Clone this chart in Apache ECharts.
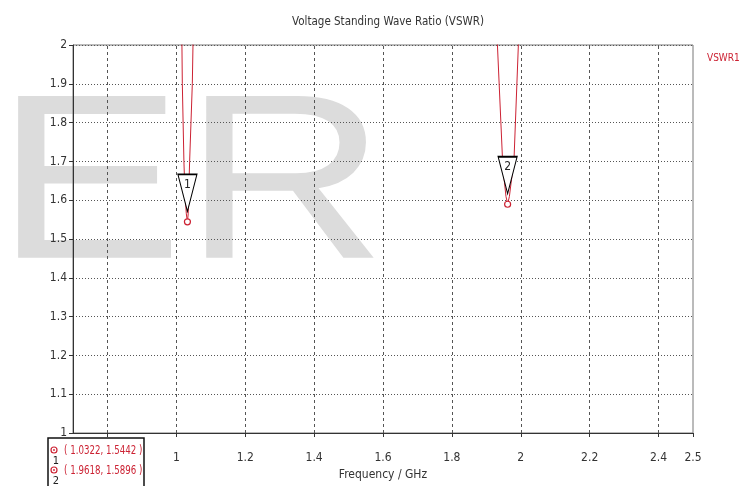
<!DOCTYPE html>
<html>
<head>
<meta charset="utf-8">
<script src="https://cdn.jsdelivr.net/npm/echarts@6/dist/echarts.min.js"></script>
<style>
html,body{margin:0;padding:0;background:#fff;}
#c{width:743px;height:486px;}
</style>
</head>
<body>
<div id="c"></div>
<script>
// ---- data ----
const titleText = 'Voltage Standing Wave Ratio (VSWR)';
const seriesName = 'VSWR1';
const xName = 'Frequency / GHz';
// resonance 1
const freq1 = [1.0151, 1.0174, 1.0220, 1.0250, 1.0290, 1.0322, 1.0345, 1.0360, 1.0386, 1.0464, 1.0503];
const vswr1 = [2.10,   1.90,   1.70,   1.62,   1.565,  1.5442, 1.565,  1.62,   1.70,   1.90,   2.10];
// resonance 2
const freq2 = [1.9272, 1.9322, 1.9467, 1.9510, 1.9570, 1.9618, 1.9670, 1.9740, 1.9806, 1.9930, 1.9973];
const vswr2 = [2.10,   2.00,   1.711,  1.66,   1.61,   1.5896, 1.61,   1.66,   1.711,  2.00,   2.10];
// markers
const markerNames = ['1', '2'];
const markerFreq = [1.0322, 1.9618];
const markerVswr = [1.5442, 1.5896];
// axes
const xMin = 0.7, xMax = 2.5;
const yMin = 1, yMax = 2, yStep = 0.1;
const xGridValues = [0.8, 1.0, 1.2, 1.4, 1.6, 1.8, 2.0, 2.2, 2.4];
const xTickValues = [0.8, 1.0, 1.2, 1.4, 1.6, 1.8, 2.0, 2.2, 2.4, 2.5];
const xLabelValues = [1.0, 1.2, 1.4, 1.6, 1.8, 2.0, 2.2, 2.4, 2.5];

// ---- styles ----
const RED = '#cc2233';
const FONT = "'Liberation Sans Narrow', 'DejaVu Sans Condensed', sans-serif";
const GRID_COLOR = '#555';

const chart = echarts.init(document.getElementById('c'), null, {renderer: 'canvas'});

const triPath = 'path://M0,0 L20,0 L10,38 Z';

function markerPoints(idx) {
  return [
    {
      coord: [markerFreq[idx], markerVswr[idx]],
      symbol: triPath,
      symbolSize: [19, 37],
      symbolOffset: [0, -29],
      itemStyle: {color: '#fff', borderColor: '#000', borderWidth: 1.3},
      label: {show: true, formatter: markerNames[idx], color: '#222', fontSize: 12, fontFamily: FONT, position: 'inside', offset: [0, -8]}
    },
    {
      coord: [markerFreq[idx], markerVswr[idx]],
      symbol: 'circle',
      symbolSize: 6,
      itemStyle: {color: '#fff', borderColor: RED, borderWidth: 1.2},
      label: {show: false}
    }
  ];
}

const option = {
  animation: false,
  backgroundColor: '#fff',
  title: {
    text: titleText,
    left: 383,
    top: 11,
    textAlign: 'center',
    textStyle: {fontFamily: FONT, fontSize: 11.5, fontWeight: 'normal', color: '#333'}
  },
  legend: {
    data: [{name: seriesName, icon: 'rect'}],
    left: 702,
    top: 53,
    itemWidth: 0,
    itemHeight: 0,
    itemGap: 0,
    padding: 0,
    textStyle: {color: RED, fontFamily: FONT, fontSize: 10, padding: [0, 0, 0, 0]},
    selectedMode: false
  },
  grid: {
    left: 73, right: 50, top: 45, bottom: 48,
    show: true, borderColor: '#777', borderWidth: 1, backgroundColor: 'transparent'
  },
  xAxis: {
    type: 'value',
    min: xMin, max: xMax,
    name: xName,
    nameLocation: 'middle',
    nameGap: 36,
    nameTextStyle: {fontFamily: FONT, fontSize: 12, color: '#333'},
    axisLine: {show: true, lineStyle: {color: '#333', width: 1}},
    axisTick: {show: true, length: 4, customValues: xTickValues, lineStyle: {color: '#333'}},
    axisLabel: {
      customValues: xLabelValues,
      margin: 19,
      fontFamily: FONT, fontSize: 12, color: '#333',
      formatter: v => String(+(+v).toFixed(2))
    },
    splitLine: {show: false}
  },
  yAxis: {
    type: 'value',
    min: yMin, max: yMax, interval: yStep,
    axisLine: {show: true, lineStyle: {color: '#333', width: 1}},
    axisTick: {show: true, length: 4, lineStyle: {color: '#333'}},
    axisLabel: {
      margin: 6,
      fontFamily: FONT, fontSize: 12, color: '#333',
      formatter: v => String(+(+v).toFixed(2))
    },
    splitLine: {show: true, lineStyle: {color: GRID_COLOR, type: [1, 2], width: 1}}
  },
  series: [
    {
      name: seriesName,
      type: 'line',
      data: freq1.map((f, i) => [f, vswr1[i]]),
      symbol: 'none',
      clip: true,
      lineStyle: {color: RED, width: 1},
      itemStyle: {color: RED},
      z: 3,
      markLine: {
        silent: true,
        symbol: ['none', 'none'],
        label: {show: false},
        lineStyle: {color: GRID_COLOR, type: [3, 3], width: 1},
        data: xGridValues.map(v => ({xAxis: v})),
        z: 1
      },
      markPoint: {silent: true, data: markerPoints(0), z: 5}
    },
    {
      name: seriesName,
      type: 'line',
      data: freq2.map((f, i) => [f, vswr2[i]]),
      symbol: 'none',
      clip: true,
      lineStyle: {color: RED, width: 1},
      itemStyle: {color: RED},
      z: 3,
      markPoint: {silent: true, data: markerPoints(1), z: 5}
    }
  ],
  graphic: [
    {
      type: 'text',
      z: -10,
      x: -5,
      y: 193,
      scaleX: 1.2,
      silent: true,
      style: {
        text: 'ER',
        font: "235px 'Liberation Sans', Arial, sans-serif",
        fill: '#dcdcdc',
        verticalAlign: 'middle',
        align: 'left'
      }
    },
    {
      type: 'group',
      z: 100,
      children: [
        {type: 'rect', shape: {x: 48, y: 438, width: 96, height: 60},
         style: {fill: '#fff', stroke: '#111', lineWidth: 1.5}},
      ].concat(markerNames.flatMap((n, i) => [
        {type: 'circle', shape: {cx: 54, cy: 450 + i * 20, r: 3},
         style: {fill: '#fff', stroke: RED, lineWidth: 1.2}},
        {type: 'circle', shape: {cx: 54, cy: 450 + i * 20, r: 0.9},
         style: {fill: RED}},
        {type: 'text', x: 56, y: 461 + i * 20,
         style: {text: n, font: "11px " + FONT, fill: '#222', align: 'center', verticalAlign: 'middle'}},
        {type: 'text', x: 64, y: 451 + i * 20, scaleX: 0.74,
         style: {text: '( ' + markerFreq[i].toFixed(4) + ', ' + markerVswr[i].toFixed(4) + ' )',
                 font: "13px " + FONT, fill: RED, align: 'left', verticalAlign: 'middle'}}
      ]))
    }
  ]
};

chart.setOption(option);
</script>
</body>
</html>
